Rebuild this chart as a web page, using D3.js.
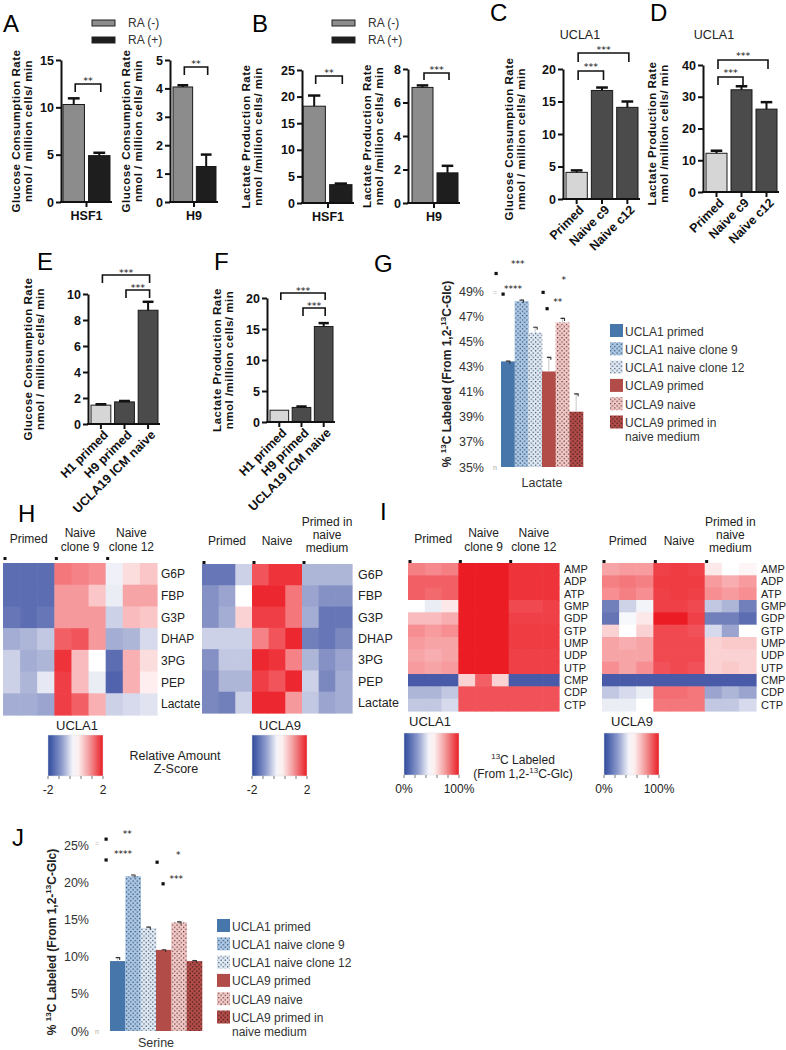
<!DOCTYPE html>
<html><head><meta charset="utf-8">
<script src="https://cdn.jsdelivr.net/npm/d3@7"></script>
<style>
body{margin:0;background:#fff;}
svg{display:block;font-family:Arial,"Liberation Sans",Helvetica,sans-serif;}
.stars{font-family:"DejaVu Sans",Arial,sans-serif;}
</style></head><body>
<svg id="c" width="786" height="1050"></svg>
<script>
// ================= DATA =================
const raSeries = ["RA (-)", "RA (+)"];
const glucHSF1 = [10.3, 4.9];   const glucHSF1Err = [0.65, 0.3];
const glucH9   = [4.05, 1.25];  const glucH9Err   = [0.06, 0.42];
const lacHSF1  = [18.2, 3.45];  const lacHSF1Err  = [2.0, 0.2];
const lacH9    = [6.9, 1.8];    const lacH9Err    = [0.12, 0.42];
const naiveCats = ["Primed", "Naive c9", "Naive c12"];
const glucUCLA1 = [4.1, 16.7, 14.1];  const glucUCLA1Err = [0.3, 0.45, 0.9];
const lacUCLA1  = [12.2, 32.2, 26.1]; const lacUCLA1Err  = [0.8, 1.1, 2.2];
const icmCats = ["H1 primed", "H9 primed", "UCLA19 ICM naive"];
const glucICM = [1.45, 1.7, 8.75]; const glucICMErr = [0.07, 0.07, 0.65];
const lacICM  = [1.9, 2.35, 15.4]; const lacICMErr  = [0, 0.15, 0.55];
const isoSeries = ["UCLA1 primed", "UCLA1 naive clone 9", "UCLA1 naive clone 12",
                   "UCLA9 primed", "UCLA9 naive", "UCLA9 primed in naive medium"];
const lactateLabeled    = [43.4, 48.2, 45.7, 42.6, 46.5, 39.4];
const lactateLabeledErr = [0.1, 0.15, 0.5, 1.2, 0.4, 1.5];
const lactateTicks = [35, 37, 39, 41, 43, 45, 47, 49];
const serineLabeled    = [9.4, 20.8, 13.8, 10.9, 14.6, 9.4];
const serineLabeledErr = [0.6, 0.3, 0.3, 0.15, 0.2, 0.2];
const serineTicks = [0, 5, 10, 15, 20, 25];
const glycolysisRows = ["G6P", "FBP", "G3P", "DHAP", "3PG", "PEP", "Lactate"];
const nucleotideRows = ["AMP", "ADP", "ATP", "GMP", "GDP", "GTP", "UMP", "UDP", "UTP", "CMP", "CDP", "CTP"];
const groupsUCLA1 = [["Primed"], ["Naive", "clone 9"], ["Naive", "clone 12"]];
const groupsUCLA9 = [["Primed"], ["Naive"], ["Primed in", "naive", "medium"]];
// relative amount z-scores (rows x 9 samples)
const zUCLA1 = [
  [-1.6, -1.6, -1.6,  1.2, 1.1, 1.0,  -0.15, 0.3, 0.5],
  [-1.6, -1.6, -1.6,  0.9, 0.9, 0.5,  -0.2, 0.8, 0.8],
  [-1.5, -1.6, -1.5,  0.9, 0.9, 0.9,  -0.5, 0.6, 0.5],
  [-0.9, -0.8, -0.6,  1.4, 1.5, 0.9,  -0.9, -0.8, -0.4],
  [-0.5, -0.9, -0.8,  1.8, 0.6, 0.0,  -1.6, 0.7, 0.3],
  [-0.5, -0.8, -0.25, 1.7, 0.6, -0.2, -1.7, 0.7, 0.15],
  [-0.9, -0.9, -1.0,  1.7, 1.4, 0.7,  -0.5, -0.4, -0.3]
];
const zUCLA9 = [
  [-1.5, -1.5, -0.5,  1.5, 1.8, 1.8,  -0.8, -0.8, -0.8],
  [-1.2, -1.0,  0.0,  1.9, 1.9, 1.2,  -1.0, -1.2, -1.2],
  [-1.2, -0.9,  0.4,  1.7, 1.7, 1.2,  -0.9, -1.5, -1.5],
  [-0.5, -0.5, -0.5,  1.1, 1.5, 1.9,  -1.4, -1.5, -1.3],
  [-1.2, -0.6, -0.6,  1.9, 1.8, 1.1,  -0.8, -1.2, -1.0],
  [-1.3, -0.8, -0.8,  1.7, 1.5, 1.9,  -0.5, -1.3, -0.9],
  [-1.3, -1.4, -0.5,  1.9, 1.9, 0.9,  -0.6, -1.0, -0.9]
];
// fraction 13C labeled (0..1)
const labUCLA1 = [
  [0.78, 0.76, 0.78, 1.0, 1.0, 1.0, 0.95, 0.95, 0.95],
  [0.85, 0.85, 0.85, 1.0, 1.0, 1.0, 0.95, 0.95, 0.95],
  [0.85, 0.83, 0.85, 1.0, 1.0, 1.0, 0.95, 0.95, 0.95],
  [0.50, 0.45, 0.55, 1.0, 1.0, 1.0, 0.90, 0.90, 0.92],
  [0.65, 0.65, 0.68, 1.0, 1.0, 1.0, 0.92, 0.92, 0.92],
  [0.75, 0.72, 0.75, 1.0, 1.0, 1.0, 0.93, 0.93, 0.93],
  [0.72, 0.70, 0.70, 1.0, 1.0, 1.0, 0.93, 0.93, 0.93],
  [0.70, 0.68, 0.70, 1.0, 1.0, 1.0, 0.92, 0.92, 0.92],
  [0.72, 0.70, 0.72, 1.0, 1.0, 1.0, 0.92, 0.92, 0.92],
  [0.05, 0.05, 0.05, 0.60, 0.85, 0.60, 0.05, 0.05, 0.05],
  [0.30, 0.30, 0.35, 0.88, 0.88, 0.88, 0.88, 0.88, 0.88],
  [0.35, 0.35, 0.40, 0.88, 0.88, 0.88, 0.88, 0.88, 0.88]
];
const labUCLA9 = [
  [0.70, 0.72, 0.72, 0.92, 0.93, 0.92, 0.55, 0.50, 0.52],
  [0.78, 0.80, 0.78, 0.93, 0.93, 0.93, 0.72, 0.68, 0.72],
  [0.75, 0.78, 0.75, 0.92, 0.93, 0.92, 0.75, 0.72, 0.75],
  [0.15, 0.38, 0.47, 0.92, 0.92, 0.90, 0.35, 0.30, 0.15],
  [0.12, 0.48, 0.55, 1.00, 1.00, 0.92, 0.15, 0.15, 0.10],
  [0.60, 0.50, 0.60, 0.90, 0.90, 0.88, 0.40, 0.25, 0.50],
  [0.70, 0.68, 0.70, 0.90, 0.90, 0.90, 0.60, 0.62, 0.62],
  [0.70, 0.70, 0.70, 0.90, 0.90, 0.90, 0.60, 0.60, 0.60],
  [0.75, 0.70, 0.75, 0.88, 0.90, 0.88, 0.60, 0.62, 0.60],
  [0.05, 0.05, 0.05, 0.05, 0.05, 0.05, 0.05, 0.05, 0.05],
  [0.35, 0.40, 0.45, 0.82, 0.82, 0.80, 0.25, 0.30, 0.25],
  [0.45, 0.45, 0.50, 0.80, 0.80, 0.80, 0.35, 0.35, 0.40]
];

// ================= DRAWING =================
const svg = d3.select("#c");
const defs = svg.append("defs");

function txt(p, x, y, s, o = {}) {
  const t = p.append("text").attr("x", x).attr("y", y).text(s)
    .attr("font-size", o.size || 12).attr("fill", o.fill || "#111")
    .attr("text-anchor", o.anchor || "start").attr("font-weight", o.weight || "normal");
  if (o.rotate) t.attr("transform", `rotate(${o.rotate},${x},${y})`);
  if (o.cls) t.attr("class", o.cls);
  if (o.ls) t.attr("letter-spacing", o.ls);
  return t;
}
function panelLetter(x, y, s) { txt(svg, x, y, s, { size: 24, fill: "#000" }); }

function bracket(g, x1, x2, yTop, leg, stars, starY) {
  g.append("path").attr("d", `M${x1},${yTop + leg}V${yTop}H${x2}V${yTop + leg}`)
    .attr("fill", "none").attr("stroke", "#111").attr("stroke-width", 1.6);
  txt(g, (x1 + x2) / 2, starY + 5.5, stars, { size: 9.5, anchor: "middle", fill: "#111", cls: "stars" });
}

function barPanel(c) {
  const g = svg.append("g");
  const y = d3.scaleLinear().domain([0, c.max]).range([c.y0, c.yTop]);
  const x = d3.scaleBand().domain(c.cats).range(c.bx).paddingInner(c.pad ?? 0.16);
  const bw = x.bandwidth();
  g.selectAll(null).data(c.values).join("rect")
    .attr("x", (d, i) => x(c.cats[i])).attr("y", d => y(d))
    .attr("width", bw).attr("height", d => c.y0 - y(d))
    .attr("fill", (d, i) => c.colors[i]).attr("stroke", "#1a1a1a").attr("stroke-width", 1);
  c.values.forEach((v, i) => {
    const e = c.err[i]; if (!e) return;
    const cx = x(c.cats[i]) + bw / 2, cw = bw * 0.55;
    g.append("line").attr("x1", cx).attr("x2", cx).attr("y1", y(v)).attr("y2", y(v + e))
      .attr("stroke", "#111").attr("stroke-width", 2);
    g.append("line").attr("x1", cx - cw / 2).attr("x2", cx + cw / 2).attr("y1", y(v + e)).attr("y2", y(v + e))
      .attr("stroke", "#111").attr("stroke-width", 2.5);
  });
  const ya = g.append("g").attr("transform", `translate(${c.ax},0)`)
    .call(d3.axisLeft(y).tickValues(c.ticks).tickSize(5).tickSizeOuter(0).tickPadding(2).tickFormat(d3.format("d")));
  ya.select(".domain").attr("stroke", "#111").attr("stroke-width", 2);
  ya.selectAll(".tick line").attr("stroke", "#111").attr("stroke-width", 2);
  ya.selectAll(".tick text").attr("font-size", 12.5).attr("font-weight", "bold").attr("fill", "#111")
    .attr("font-family", "Arial,'Liberation Sans',sans-serif");
  g.append("line").attr("x1", c.ax - 1).attr("x2", c.bx[1] + 2).attr("y1", c.y0).attr("y2", c.y0)
    .attr("stroke", "#111").attr("stroke-width", 2);
  const xs = c.xlabel ? d3.scaleBand().domain([c.xlabel]).range([c.ax, c.bx[1] + 2]) : x;
  const xa = g.append("g").attr("transform", `translate(0,${c.y0})`)
    .call(d3.axisBottom(xs).tickSize(5).tickSizeOuter(0).tickPadding(2));
  xa.select(".domain").remove();
  xa.selectAll(".tick line").attr("stroke", "#111").attr("stroke-width", 2);
  const tt = xa.selectAll(".tick text").attr("font-size", 12.5).attr("font-weight", "bold").attr("fill", "#111")
    .attr("font-family", "Arial,'Liberation Sans',sans-serif");
  if (!c.xlabel) {
    tt.attr("text-anchor", "end").attr("transform", "rotate(-45)").attr("dx", "-0.2em").attr("dy", "0.55em");
  } else {
    tt.attr("dy", "0.9em");
  }
  const yc = (c.y0 + c.yTop) / 2 + (c.ylShift || 0);
  c.ylabel.forEach((l, i) => txt(g, c.ylx[i] + 4, yc, l, { size: 11.5, weight: "bold", anchor: "middle", rotate: -90, ls: 0.5 }));
  c.brackets.forEach(b => {
    const cx1 = x(c.cats[b[0]]) + bw / 2 + 1.5, cx2 = x(c.cats[b[1]]) + bw / 2 + 1.5;
    bracket(g, cx1, cx2, b[2], b[3], b[4], b[5]);
  });
  return g;
}

const raColors = ["#8c8c8c", "#1e1e1e"];
const cdColors = ["#d6d6d6", "#4b4b4b", "#4b4b4b"];
const glucLabel = ["Glucose Consumption Rate", "nmol / million cells/ min"];
const lacLabel = ["Lactate Production Rate", "nmol /million cells/ min"];

// ---- A ----
panelLetter(3, 32, "A");
barPanel({ ax: 61, y0: 202, yTop: 60, max: 15, ticks: [0, 5, 10, 15], bx: [63, 110], cats: raSeries,
  values: glucHSF1, err: glucHSF1Err, colors: raColors, xlabel: "HSF1", ylabel: glucLabel, ylx: [16, 28],
  brackets: [[0, 1, 84, 8, "**", 78]] });
barPanel({ ax: 170, y0: 202, yTop: 60, max: 5, ticks: [0, 1, 2, 3, 4, 5], bx: [173, 216], cats: raSeries,
  values: glucH9, err: glucH9Err, colors: raColors, xlabel: "H9", ylabel: glucLabel, ylx: [126, 138],
  brackets: [[0, 1, 67, 8, "**", 61]] });
// ---- B ----
panelLetter(252, 32, "B");
barPanel({ ax: 302, y0: 203, yTop: 70, max: 25, ticks: [0, 5, 10, 15, 20, 25], bx: [303, 352], cats: raSeries,
  values: lacHSF1, err: lacHSF1Err, colors: raColors, xlabel: "HSF1", ylabel: lacLabel, ylx: [246, 258],
  brackets: [[0, 1, 76, 8, "**", 70]] });
barPanel({ ax: 408, y0: 203, yTop: 69, max: 8, ticks: [0, 2, 4, 6, 8], bx: [412, 458], cats: raSeries,
  values: lacH9, err: lacH9Err, colors: raColors, xlabel: "H9", ylabel: lacLabel, ylx: [367, 379],
  brackets: [[0, 1, 73, 7, "***", 67]] });
// RA legends
[[92, 128], [332, 368]].forEach(([lx, tx]) => {
  raSeries.forEach((s, i) => {
    svg.append("rect").attr("x", lx).attr("y", 20 + i * 17).attr("width", 23).attr("height", 6)
      .attr("fill", raColors[i]).attr("stroke", "#222").attr("stroke-width", 1);
    txt(svg, tx, 27 + i * 17, s, { size: 12, fill: "#333" });
  });
});
// ---- C ----
panelLetter(490, 21, "C");
txt(svg, 580, 39, "UCLA1", { size: 12.5, anchor: "middle", fill: "#222" });
barPanel({ ax: 563, y0: 199, yTop: 69, max: 20, ticks: [0, 5, 10, 15, 20], bx: [566, 638], cats: naiveCats,
  values: glucUCLA1, err: glucUCLA1Err, colors: cdColors, ylabel: glucLabel, ylx: [509, 521], ylShift: 5,
  brackets: [[0, 2, 53, 9, "***", 47], [0, 1, 71, 9, "***", 64]] });
// ---- D ----
panelLetter(650, 21, "D");
txt(svg, 714, 39, "UCLA1", { size: 12.5, anchor: "middle", fill: "#222" });
barPanel({ ax: 703, y0: 192, yTop: 65, max: 40, ticks: [0, 10, 20, 30, 40], bx: [706, 777], cats: naiveCats,
  values: lacUCLA1, err: lacUCLA1Err, colors: cdColors, ylabel: lacLabel, ylx: [652, 664], ylShift: 5,
  brackets: [[0, 2, 60, 9, "***", 53], [0, 1, 77, 8, "***", 70]] });
// ---- E ----
panelLetter(37, 270, "E");
barPanel({ ax: 88, y0: 424, yTop: 294, max: 10, ticks: [0, 2, 4, 6, 8, 10], bx: [91, 158], cats: icmCats,
  values: glucICM, err: glucICMErr, colors: cdColors, ylabel: glucLabel, ylx: [28, 40],
  brackets: [[0, 2, 275, 8, "***", 270], [1, 2, 290, 8, "***", 285]] });
// ---- F ----
panelLetter(214, 270, "F");
barPanel({ ax: 267, y0: 422, yTop: 298, max: 20, ticks: [0, 5, 10, 15, 20], bx: [270, 333], cats: icmCats,
  values: lacICM, err: lacICMErr, colors: cdColors, ylabel: lacLabel, ylx: [217, 229],
  brackets: [[0, 2, 293, 7, "***", 288], [1, 2, 308, 8, "***", 303]] });

// ---- G / J isotope bar charts ----
function dotPattern(id, bg, dot) {
  const p = defs.append("pattern").attr("id", id).attr("width", 4.4).attr("height", 4.4).attr("patternUnits", "userSpaceOnUse");
  p.append("rect").attr("width", 4.4).attr("height", 4.4).attr("fill", bg);
  p.append("rect").attr("x", 0.5).attr("y", 0.5).attr("width", 1.1).attr("height", 1.1).attr("fill", dot);
  p.append("rect").attr("x", 2.7).attr("y", 2.7).attr("width", 1.1).attr("height", 1.1).attr("fill", dot);
}
dotPattern("p1", "#a9c7e7", "#1d2a3a");
dotPattern("p2", "#dfeaf6", "#1d2a3a");
dotPattern("p3", "#f4c8c6", "#2a1a1a");
dotPattern("p4", "#b24c49", "#1a0a0a");
const isoFills = ["#4676aa", "url(#p1)", "url(#p2)", "#b24c49", "url(#p3)", "url(#p4)"];

function isoChart(c) {
  const g = svg.append("g");
  const y = d3.scaleLinear().domain(c.domain).range([c.y0, c.yTop]);
  const x = d3.scaleBand().domain(isoSeries).range(c.bx);
  g.selectAll(null).data(c.values).join("rect")
    .attr("x", (d, i) => x(isoSeries[i])).attr("y", d => y(d)).attr("width", x.bandwidth() + 0.3)
    .attr("height", d => c.y0 - y(d)).attr("fill", (d, i) => isoFills[i]);
  c.values.forEach((v, i) => {
    const cx = x(isoSeries[i]) + x.bandwidth() / 2;
    g.append("line").attr("x1", cx).attr("x2", cx).attr("y1", y(v)).attr("y2", y(v + c.err[i]))
      .attr("stroke", "#c8c8c8").attr("stroke-width", 1);
    g.append("path").attr("d", `M${cx - 2},${y(v + c.err[i]) + 1}h4v2.5`).attr("fill", "none")
      .attr("stroke", "#333").attr("stroke-width", 1.1);
  });
  const ya = g.append("g").attr("transform", `translate(${c.ax},0)`)
    .call(d3.axisLeft(y).tickValues(c.ticks).tickSize(0).tickPadding(0).tickFormat(d => d + "%"));
  ya.select(".domain").remove();
  ya.selectAll(".tick text").attr("font-size", 12.5).attr("fill", "#333")
    .attr("font-family", "Arial,'Liberation Sans',sans-serif");
  txt(g, c.nx, c.y0 + 3, "n", { size: 7, fill: "#aaa" });
  txt(g, c.nx, y(c.eqVal) + 2, "=", { size: 7, fill: "#bbb" });
  txt(g, (c.bx[0] + c.bx[1]) / 2, c.catY, c.cat, { size: 12.5, anchor: "middle", fill: "#333" });
  const yl = g.append("text").attr("transform", `translate(${c.ylx},${c.ylc}) rotate(-90)`)
    .attr("text-anchor", "middle").attr("font-size", 12).attr("font-weight", "bold").attr("fill", "#222");
  yl.append("tspan").text("% ");
  yl.append("tspan").text("13").attr("font-size", 8).attr("dy", -5);
  yl.append("tspan").text("C Labeled (From 1,2-").attr("dy", 5);
  yl.append("tspan").text("13").attr("font-size", 8).attr("dy", -5);
  yl.append("tspan").text("C-Glc)").attr("dy", 5);
  c.marks.forEach(m => {
    const bx = x(isoSeries[m.bar]) + m.dx;
    if (m.t === "dot") g.append("rect").attr("x", bx - 1.5).attr("y", y(m.v) - 1.5).attr("width", 3.2).attr("height", 3.2).attr("fill", "#111");
    else txt(g, bx, y(m.v) + 5, m.t, { size: 9, anchor: "middle", fill: "#111", cls: "stars" });
  });
  isoSeries.forEach((s, i) => {
    const ly = c.legY + i * c.legStep;
    g.append("rect").attr("x", c.legX).attr("y", ly - 7).attr("width", 13).attr("height", 13).attr("fill", isoFills[i]);
    if (i < 5) txt(g, c.legX + 15, ly + 4.5, s, { size: 12, fill: "#333" });
    else {
      txt(g, c.legX + 15, ly + 4.5, "UCLA9 primed in", { size: 12, fill: "#333" });
      txt(g, c.legX + 15, ly + 18, "naive medium", { size: 12, fill: "#333" });
    }
  });
}

panelLetter(374, 272, "G");
isoChart({ domain: [35, 49], y0: 467, yTop: 291, bx: [501, 583], ax: 484, ticks: lactateTicks,
  values: lactateLabeled, err: lactateLabeledErr, cat: "Lactate", catY: 487, nx: 493, eqVal: 48.85,
  ylx: 451, ylc: 374, legX: 610, legY: 331, legStep: 18.3,
  marks: [
    { t: "dot", bar: 0, dx: -5, v: 50.4 }, { t: "dot", bar: 0, dx: 2, v: 48.76 },
    { t: "****", bar: 0, dx: 12, v: 49.3 }, { t: "***", bar: 1, dx: 3, v: 51.3 },
    { t: "dot", bar: 3, dx: 1, v: 48.9 }, { t: "dot", bar: 3, dx: 5, v: 47.6 },
    { t: "**", bar: 4, dx: 2, v: 48.3 }, { t: "*", bar: 4, dx: 8, v: 50.0 }
  ] });

panelLetter(12, 846, "J");
isoChart({ domain: [0, 25], y0: 1031, yTop: 845, bx: [110, 202], ax: 89, ticks: serineTicks,
  values: serineLabeled, err: serineLabeledErr, cat: "Serine", catY: 1047, nx: 95, eqVal: 25.1,
  ylx: 56, ylc: 942, legX: 217, legY: 926, legStep: 18.3,
  marks: [
    { t: "dot", bar: 0, dx: -4, v: 25.8 }, { t: "dot", bar: 0, dx: -4, v: 23.0 },
    { t: "**", bar: 1, dx: 2, v: 26.7 }, { t: "****", bar: 0, dx: 13, v: 24.1 },
    { t: "dot", bar: 3, dx: 1, v: 22.7 }, { t: "dot", bar: 3, dx: 7, v: 19.8 },
    { t: "***", bar: 4, dx: 5, v: 20.7 }, { t: "*", bar: 4, dx: 7, v: 23.9 }
  ] });

// ---- heatmaps ----
const zColor = d3.scaleLinear().domain([-2, 0, 2]).range(["#34489e", "#ffffff", "#ec1c24"]);
const labColor = d3.scaleLinear().domain([0, 0.5, 1]).range(["#34489e", "#ffffff", "#ec1c24"]);

function heatmap(c) {
  const g = svg.append("g");
  const xs = d3.scaleBand().domain(d3.range(9)).range([c.x0, c.x1]);
  const ys = d3.scaleBand().domain(c.rows).range([c.y0, c.y1]);
  c.data.forEach((row, r) => row.forEach((v, k) => {
    g.append("rect").attr("x", xs(k)).attr("y", ys(c.rows[r]))
      .attr("width", xs.bandwidth() + 0.6).attr("height", ys.bandwidth() + 0.6).attr("fill", c.color(v));
  }));
  c.rows.forEach(r => txt(g, c.x1 + c.ldx, ys(r) + ys.bandwidth() / 2 + c.lsize * 0.36, r, { size: c.lsize, fill: "#222" }));
  c.groups.forEach((lines, gi) => {
    const gx0 = xs(gi * 3), gx1 = xs(gi * 3 + 2) + xs.bandwidth();
    g.append("rect").attr("x", gx0 + 0.5).attr("y", c.y0 - c.sq).attr("width", 3).attr("height", 3).attr("fill", "#111");
    const base = c.hy[lines.length - 1];
    lines.forEach((l, li) => txt(g, (gx0 + gx1) / 2, base[li], l, { size: 12, anchor: "middle", fill: "#222" }));
  });
  txt(g, c.nameX, c.nameY, c.name, { size: 13, anchor: "middle", fill: "#222" });
  const gid = "grad" + c.id;
  const lg = defs.append("linearGradient").attr("id", gid);
  [[0, "#2f4a9e"], [0.25, "#8d9bcc"], [0.45, "#f4f4fa"], [0.55, "#fdf0f0"], [0.75, "#f29a9c"], [1, "#ea1d25"]]
    .forEach(([o, col]) => lg.append("stop").attr("offset", o).attr("stop-color", col));
  g.append("rect").attr("x", c.cb[0]).attr("y", c.cb[1]).attr("width", c.cb[2]).attr("height", c.cb[3])
    .attr("fill", `url(#${gid})`).attr("stroke", "#ddd").attr("stroke-width", 0.5);
  const cbs = d3.scaleLinear().domain([0, 5]).range([c.cb[0], c.cb[0] + c.cb[2]]);
  d3.range(6).forEach(i => g.append("line").attr("x1", cbs(i)).attr("x2", cbs(i))
    .attr("y1", c.cb[1] + c.cb[3]).attr("y2", c.cb[1] + c.cb[3] + 3).attr("stroke", "#555").attr("stroke-width", 0.8));
  txt(g, c.cb[0], c.cb[1] + c.cb[3] + 18, c.cbl[0], { size: 12, anchor: "middle", fill: "#222" });
  txt(g, c.cb[0] + c.cb[2], c.cb[1] + c.cb[3] + 18, c.cbl[1], { size: 12, anchor: "middle", fill: "#222" });
}

panelLetter(18, 522, "H");
const hyLeft = [[543], [537, 551]], hyRight = [[545], [545], [526, 539, 552]];
heatmap({ id: "h1", x0: 3, x1: 157, y0: 563, y1: 715, rows: glycolysisRows, data: zUCLA1, color: zColor,
  groups: groupsUCLA1, hy: hyLeft, sq: 6, ldx: 4, lsize: 12, name: "UCLA1", nameX: 77, nameY: 730,
  cb: [48, 735, 55, 41], cbl: ["-2", "2"] });
heatmap({ id: "h9", x0: 202, x1: 352, y0: 564, y1: 713, rows: glycolysisRows, data: zUCLA9, color: zColor,
  groups: groupsUCLA9, hy: hyRight, sq: 3, ldx: 6, lsize: 12.5, name: "UCLA9", nameX: 280, nameY: 730,
  cb: [252, 735, 55, 41], cbl: ["-2", "2"] });
txt(svg, 175, 760, "Relative Amount", { size: 12.5, anchor: "middle", fill: "#222" });
txt(svg, 176, 773, "Z-Score", { size: 12.5, anchor: "middle", fill: "#222" });

panelLetter(380, 520, "I");
heatmap({ id: "i1", x0: 408, x1: 559, y0: 563, y1: 711, rows: nucleotideRows, data: labUCLA1, color: labColor,
  groups: groupsUCLA1, hy: hyLeft, sq: 3, ldx: 5, lsize: 11, name: "UCLA1", nameX: 430, nameY: 726,
  cb: [404, 733, 55, 42], cbl: ["0%", "100%"] });
heatmap({ id: "i9", x0: 602, x1: 756, y0: 563, y1: 711, rows: nucleotideRows, data: labUCLA9, color: labColor,
  groups: groupsUCLA9, hy: hyRight, sq: 3, ldx: 5, lsize: 11, name: "UCLA9", nameX: 632, nameY: 726,
  cb: [604, 733, 55, 42], cbl: ["0%", "100%"] });
{
  const t1 = svg.append("text").attr("x", 523).attr("y", 764).attr("text-anchor", "middle").attr("font-size", 12).attr("fill", "#222");
  t1.append("tspan").text("13").attr("font-size", 8).attr("dy", -5);
  t1.append("tspan").text("C Labeled").attr("dy", 5);
  const t2 = svg.append("text").attr("x", 523).attr("y", 778).attr("text-anchor", "middle").attr("font-size", 12).attr("fill", "#222");
  t2.append("tspan").text("(From 1,2-");
  t2.append("tspan").text("13").attr("font-size", 8).attr("dy", -5);
  t2.append("tspan").text("C-Glc)").attr("dy", 5);
}
</script></body></html>
